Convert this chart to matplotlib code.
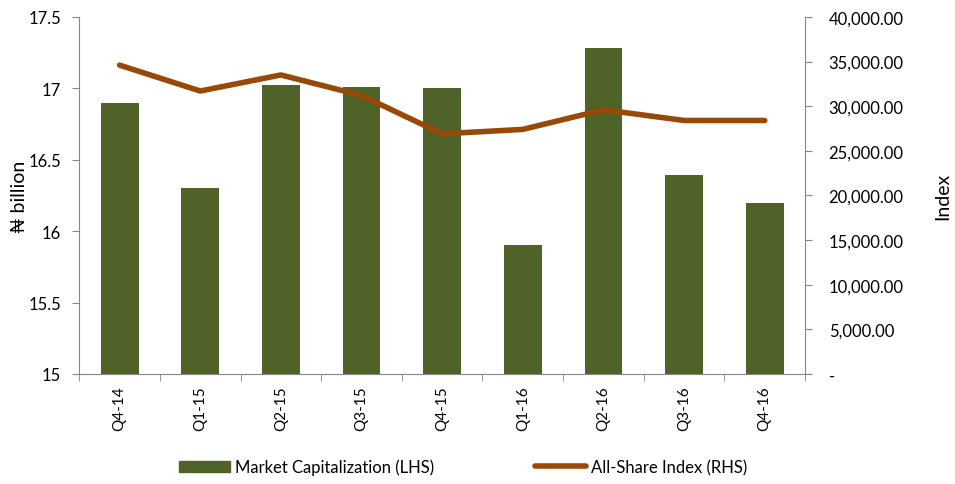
import matplotlib.pyplot as plt
from matplotlib.ticker import FuncFormatter, FixedLocator, NullFormatter
from matplotlib.patches import Patch
from matplotlib.lines import Line2D

plt.rcParams['font.family'] = ['Lato', 'DejaVu Sans']

quarters = ["Q4-14", "Q1-15", "Q2-15", "Q3-15", "Q4-15", "Q1-16", "Q2-16", "Q3-16", "Q4-16"]
market_cap = [16.9, 16.3, 17.02, 17.01, 17.0, 15.9, 17.28, 16.39, 16.2]
asi = [34600, 31700, 33500, 31200, 26900, 27400, 29600, 28400, 28400]

bar_color = "#4F6228"
line_color = "#984807"
axis_gray = "#868686"

fig = plt.figure(figsize=(9.55, 4.85), dpi=100)
ax = fig.add_axes([0.083, 0.227, 0.760, 0.736])
ax2 = ax.twinx()

x = list(range(len(quarters)))
ax.bar(x, market_cap, width=0.47, color=bar_color, zorder=2)
ax2.plot(x, asi, color=line_color, linewidth=4, solid_capstyle='round', zorder=3)

ax.set_ylim(15, 17.5)
ax.set_yticks([15, 15.5, 16, 16.5, 17, 17.5])
ax.set_yticklabels(["15", "15.5", "16", "16.5", "17", "17.5"])
ax.set_xlim(-0.5, len(quarters) - 0.5)
ax.set_xticks(x)
ax.set_xticklabels(quarters, rotation=90)
ax.tick_params(axis='x', length=0, pad=8, labelsize=11)
ax.xaxis.set_minor_locator(FixedLocator([i + 0.5 for i in range(-1, len(quarters))]))
ax.xaxis.set_minor_formatter(NullFormatter())
ax.tick_params(axis='x', which='minor', length=5, color=axis_gray, direction='out')
ax.tick_params(axis='y', length=5, color=axis_gray, labelsize=12, pad=8)
ax.set_ylabel("₦ billion", fontsize=14, labelpad=0)

ax2.set_ylim(0, 40000)
ax2.set_yticks(range(0, 40001, 5000))
ax2.yaxis.set_major_formatter(FuncFormatter(lambda v, p: "-" if v == 0 else f"{v:,.2f}"))
ax2.tick_params(axis='y', length=5, color=axis_gray, labelsize=12, pad=12)
ax2.set_ylabel("Index", fontsize=14, labelpad=22)

for a in (ax, ax2):
    a.spines['top'].set_visible(False)
    for s in ('left', 'right', 'bottom'):
        a.spines[s].set_color(axis_gray)
ax.spines['right'].set_visible(False)
ax2.spines['left'].set_visible(False)
ax2.spines['bottom'].set_visible(False)

handles = [Patch(color=bar_color, label="Market Capitalization (LHS)"),
           Line2D([0], [0], color=line_color, linewidth=4, solid_capstyle='round', label="All-Share Index (RHS)")]
fig.legend(handles=handles, loc='center', bbox_to_anchor=(0.485, 0.035), ncol=2, frameon=False,
           fontsize=12, handlelength=3.1, columnspacing=6, handletextpad=0.3)

fig.savefig("out.png", dpi=100)
